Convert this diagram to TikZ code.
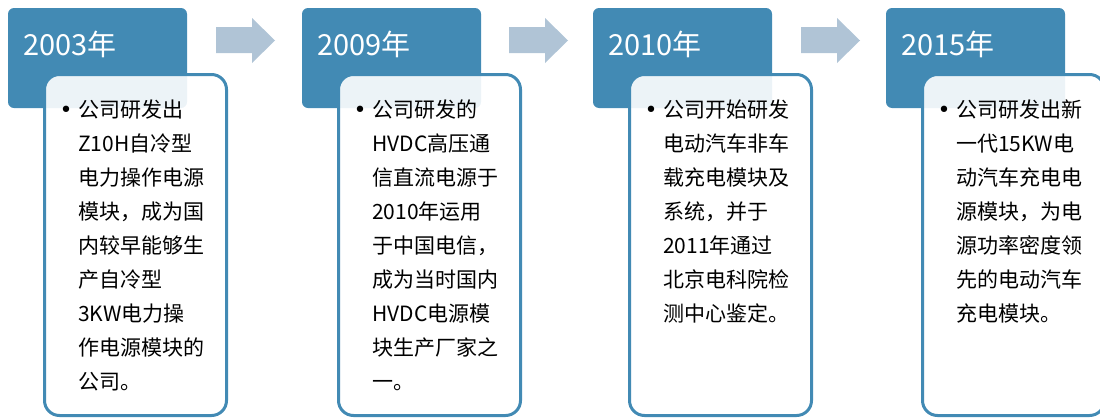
\documentclass[tikz,border=0pt]{standalone}
\usepackage{fontspec}
\setmainfont{Noto Sans CJK SC}
\newfontfamily\bulletfont{DejaVu Sans}
\definecolor{hdr}{HTML}{428AB4}
\definecolor{arr}{HTML}{B0C4D6}
\tikzset{
  hdrbox/.style={fill=hdr, rounded corners=6pt, anchor=north west, minimum width=179pt, minimum height=100pt, inner sep=0pt, outer sep=0pt},
  bodybox/.style={draw=hdr, line width=3pt, fill=white, fill opacity=0.9, draw opacity=1, rounded corners=15pt, anchor=north west, minimum width=182pt, minimum height=341pt, inner sep=0pt, outer sep=0pt},
  yeartext/.style={anchor=base west, text=white, font=\fontsize{29}{34}\selectfont, inner sep=0pt},
  bodytext/.style={anchor=base west, font=\fontsize{21}{34}\selectfont, inner sep=0pt, text=black},
  bullettext/.style={anchor=base, font=\bulletfont\fontsize{22}{34}\selectfont, inner sep=0pt, text=black},
  flowarrow/.style={fill=arr},
}
\begin{document}
\begin{tikzpicture}[x=1pt,y=-1pt]
\useasboundingbox (0,0) rectangle (1100,418);
% headers, bodies, years, bullets
\foreach \dx/\yr [count=\c] in {0/2003, 294/2009, 585/2010, 878/2015} {
  \node[hdrbox] (h\c) at (8+\dx,8) {};
  \node[yeartext] (y\c) at (23+\dx,55) {\yr 年};
  \node[bodybox] (b\c) at (44.5+\dx,74.5) {};
  \node[bullettext] (bu\c) at (66+\dx,117) {•};
}
% arrows
\foreach \dx [count=\c] in {0, 293, 585} {
  \fill[flowarrow] (216+\dx,27) -- (252+\dx,27) -- (252+\dx,18) -- (275+\dx,40.5)
    -- (252+\dx,63) -- (252+\dx,53) -- (216+\dx,53) -- cycle;
}
% body texts
\foreach \t [count=\i] in {公司研发出, Z10H自冷型, 电力操作电源, 模块，成为国, 内较早能够生, 产自冷型, 3KW电力操, 作电源模块的, 公司。} {
  \node[bodytext] (ta\i) at (78,117+34*\i-34) {\t};
}
\foreach \t [count=\i] in {公司研发的, HVDC高压通, 信直流电源于, 2010年运用, 于中国电信，, 成为当时国内, HVDC电源模, 块生产厂家之, 一。} {
  \node[bodytext] (tb\i) at (372,117+34*\i-34) {\t};
}
\foreach \t [count=\i] in {公司开始研发, 电动汽车非车, 载充电模块及, 系统，并于, 2011年通过, 北京电科院检, 测中心鉴定。} {
  \node[bodytext] (tc\i) at (663,117+34*\i-34) {\t};
}
\foreach \t [count=\i] in {公司研发出新, 一代15KW电, 动汽车充电电, 源模块，为电, 源功率密度领, 先的电动汽车, 充电模块。} {
  \node[bodytext] (td\i) at (956,117+34*\i-34) {\t};
}
\end{tikzpicture}
\end{document}
